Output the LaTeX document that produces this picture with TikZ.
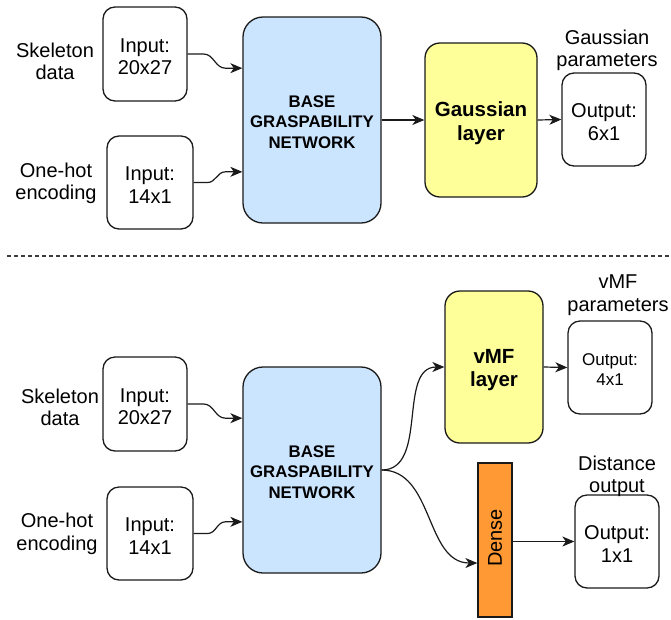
\documentclass[tikz,border=0pt]{standalone}
\usepackage{fontspec}
\setmainfont{Liberation Sans}
\usetikzlibrary{arrows.meta,calc}

\definecolor{netblue}{HTML}{CCE5FF}
\definecolor{layeryellow}{HTML}{FFFF99}
\definecolor{denseorange}{HTML}{FF9933}
\definecolor{edgegray}{HTML}{1A1A1A}

\begin{document}
\begin{tikzpicture}[x=1pt,y=-1pt,
  txt/.style={font=\fontsize{20}{22.5}\selectfont, align=center, inner sep=0pt},
  lbl/.style={txt, yshift=-2.5pt},
  boxtext/.style={label={[txt, yshift=-2.5pt]center:{#1}}},
  smalltext/.style={label={[txt, font=\fontsize{17}{19.5}\selectfont, yshift=-2pt]center:{#1}}},
  basetext/.style={label={[txt, font=\bfseries\fontsize{16.8}{20.5}\selectfont, yshift=-2pt]center:{#1}}},
  layertext/.style={label={[txt, font=\bfseries\fontsize{20.5}{23.5}\selectfont, yshift=-3pt]center:{#1}}},
  iobox/.style={draw=edgegray, line width=1.3pt, rounded corners=12pt, inner sep=0pt,
    minimum width=84pt, minimum height=93pt},
  basebox/.style={draw=edgegray, line width=1.3pt, fill=netblue, rounded corners=20pt,
    minimum width=138pt, minimum height=206pt, inner sep=0pt},
  layerbox/.style={draw=edgegray, line width=1.3pt, fill=layeryellow, rounded corners=15pt,
    inner sep=0pt},
  densebox/.style={draw=edgegray, line width=1.3pt, fill=denseorange, inner sep=0pt,
    minimum width=34pt, minimum height=154pt},
  conn/.style={line width=1.2pt, edgegray, -{Stealth[length=12pt,width=10pt,inset=3.5pt]}},
  sep/.style={line width=1.3pt, edgegray!85, dash pattern=on 4pt off 3pt}
]
\useasboundingbox (0,0) rectangle (671,619);

% ---------- upper model: Gaussian head ----------
\node[lbl] (skelA) at (55,59) {Skeleton\\data};
\node[lbl] (hotA) at (56,181) {One-hot\\encoding};
\node[iobox, minimum height=94pt, boxtext={Input:\\20x27}] (inA1) at (145,54) {};
\node[iobox, minimum width=86pt, boxtext={Input:\\14x1}] (inA2) at (150,182.5) {};
\node[basebox, basetext={BASE\\GRASPABILITY\\NETWORK}] (baseA) at (312,120) {};
\node[layerbox, minimum width=112pt, minimum height=154pt, layertext={Gaussian\\layer}] (gauss) at (481,120) {};
\node[iobox, boxtext={Output:\hspace{0.3em}\\6x1}] (outG) at (604,119.5) {};
\node[lbl] (gparam) at (607,48) {Gaussian\\parameters};

\coordinate (baseA1) at ($(baseA.north west)!0.25!(baseA.south west)$);
\coordinate (baseA2) at ($(baseA.north west)!0.75!(baseA.south west)$);
\draw[conn] (inA1.east) -- ++(16,0) to[out=0,in=180] ($(baseA1)+(-17,0)$) -- (baseA1);
\draw[conn] (inA2.east) -- ++(14,0) to[out=0,in=180] ($(baseA2)+(-17,0)$) -- (baseA2);
\draw[conn] (baseA.east) -- (gauss.west);
\draw[conn] (gauss.east) -- (outG.west);

% ---------- separator ----------
\coordinate (sepL) at (7,256);
\coordinate (sepR) at (671,256);
\draw[sep] (sepL) -- (sepR);

% ---------- lower model: vMF head and distance head ----------
\node[lbl] (skelB) at (60,405) {Skeleton\\data};
\node[lbl] (hotB) at (57,531.5) {One-hot\\encoding};
\node[iobox, minimum height=94pt, boxtext={Input:\\20x27}] (inB1) at (145,404) {};
\node[iobox, minimum width=86pt, boxtext={Input:\\14x1}] (inB2) at (150,533.5) {};
\node[basebox, basetext={BASE\\GRASPABILITY\\NETWORK}] (baseB) at (312,470) {};
\node[layerbox, minimum width=98pt, minimum height=152pt, layertext={vMF\\layer}] (vmf) at (494,367) {};
\node[iobox, smalltext={Output:\hspace{0.3em}\\4x1}] (outV) at (610,367.5) {};
\node[lbl] (vparam) at (618,292.5) {vMF\\parameters};
\node[densebox] (dense) at (495,540) {};
\node[txt, rotate=90] (denseTxt) at ($(dense.center)+(0,-2)$) {Dense};
\node[iobox, boxtext={Output:\hspace{0.3em}\\1x1}] (outD) at (617,541.5) {};
\node[lbl] (dlabel) at (617,474) {Distance\\output};

\coordinate (baseB1) at ($(baseB.north west)!0.25!(baseB.south west)$);
\coordinate (baseB2) at ($(baseB.north west)!0.75!(baseB.south west)$);
\draw[conn] (inB1.east) -- ++(16,0) to[out=0,in=180] ($(baseB1)+(-17,0)$) -- (baseB1);
\draw[conn] (inB2.east) -- ++(14,0) to[out=0,in=180] ($(baseB2)+(-17,0)$) -- (baseB2);
\draw[conn] (baseB.east) to[out=0,in=180] (vmf.west);
\draw[conn] (baseB.east) to[out=0,in=180] ([yshift=-23pt]dense.west);
\draw[conn] (vmf.east) -- (outV.west);
\draw[conn] (dense.east |- outD.west) -- (outD.west);
\end{tikzpicture}
\end{document}
